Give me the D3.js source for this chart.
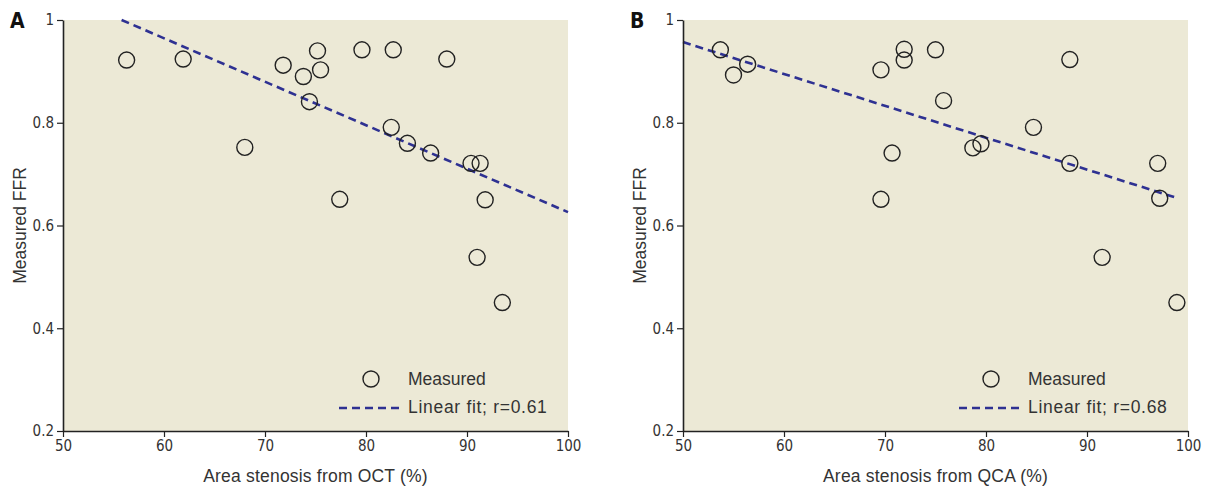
<!DOCTYPE html>
<html>
<head>
<meta charset="utf-8">
<script src="https://cdn.jsdelivr.net/npm/d3@7"></script>
<style>
  body { margin: 0; background: #fff; }
  .tick text { font-family: "Liberation Sans Narrow", "DejaVu Sans Condensed", sans-serif; font-size: 15px; fill: #333; }
  .title { font-family: "Liberation Sans", Arial, sans-serif; font-size: 17.5px; fill: #333; }
  .panel { font-family: "Liberation Sans Narrow", "DejaVu Sans Condensed", sans-serif; font-size: 21px; font-weight: bold; fill: #111; }
</style>
</head>
<body>
<script>
// panel A: area stenosis from OCT vs measured FFR
var octX = [56.3, 61.9, 68.0, 71.8, 73.8, 75.2, 75.5, 74.4, 77.4, 79.6, 82.7, 82.5, 84.1, 86.4, 88.0, 90.4, 91.3, 91.8, 91.0, 93.5]
var octY = [0.922, 0.924, 0.752, 0.912, 0.890, 0.940, 0.903, 0.841, 0.651, 0.942, 0.942, 0.791, 0.760, 0.741, 0.924, 0.721, 0.721, 0.650, 0.538, 0.450]
var octFitX = [55.8, 100]
var octFitY = [1.0, 0.626]

// panel B: area stenosis from QCA vs measured FFR
var qcaX = [53.7, 55.0, 56.4, 69.6, 71.9, 71.9, 70.7, 69.6, 75.0, 75.8, 78.7, 79.5, 84.7, 88.3, 88.3, 91.5, 97.0, 97.2, 98.9]
var qcaY = [0.942, 0.893, 0.914, 0.903, 0.943, 0.922, 0.741, 0.651, 0.942, 0.843, 0.751, 0.759, 0.791, 0.923, 0.721, 0.538, 0.721, 0.653, 0.450]
var qcaFitX = [50, 99.0]
var qcaFitY = [0.957, 0.653]

var xTicks = [50, 60, 70, 80, 90, 100]
var yTicks = [0.2, 0.4, 0.6, 0.8, 1]
var yTickLabels = ["0.2", "0.4", "0.6", "0.8", "1"]

var svg = d3.select("body").append("svg").attr("width", 1207).attr("height", 489)

var plotTop = 20, plotBottom = 431, plotW = 505

function drawPanel(left, letter, xs, ys, fitX, fitY, xTitle, r) {
    var x = d3.scaleLinear().domain([50, 100]).range([left, left + plotW])
    var y = d3.scaleLinear().domain([0.2, 1]).range([plotBottom, plotTop])
    var g = svg.append("g")

    g.append("rect").attr("x", left).attr("y", plotTop).attr("width", plotW).attr("height", plotBottom - plotTop)
        .attr("fill", "#ece9d6")

    // fit line
    g.append("line")
        .attr("x1", x(fitX[0])).attr("y1", y(fitY[0]))
        .attr("x2", x(fitX[1])).attr("y2", y(fitY[1]))
        .attr("stroke", "#2e3192").attr("stroke-width", 2.6).attr("stroke-dasharray", "8,5")

    g.selectAll("circle.pt").data(xs).enter().append("circle").classed("pt", true)
        .attr("cx", d => x(d)).attr("cy", (d, i) => y(ys[i])).attr("r", 8)
        .attr("fill", "none").attr("stroke", "#222").attr("stroke-width", 1.4)

    g.append("g").attr("transform", "translate(0," + plotBottom + ")")
        .call(d3.axisBottom(x).tickValues(xTicks).tickSize(6).tickSizeOuter(0).tickPadding(3))
    g.append("g").attr("transform", "translate(" + left + ",0)")
        .call(d3.axisLeft(y).tickValues(yTicks).tickSize(6).tickSizeOuter(0).tickPadding(3)
            .tickFormat((d, i) => yTickLabels[i]))
    g.selectAll(".domain").attr("stroke", "#222").attr("stroke-width", 1.6)
    g.selectAll(".tick line").attr("stroke", "#222").attr("stroke-width", 1.2)

    g.append("text").classed("title", true).style("letter-spacing", "0.2px")
        .attr("x", left + plotW / 2).attr("y", 482).attr("text-anchor", "middle").text(xTitle)
    g.append("text").classed("title", true)
        .attr("transform", "translate(" + (left - 37) + "," + ((plotTop + plotBottom) / 2) + ") rotate(-90)")
        .attr("text-anchor", "middle").text("Measured FFR")
    g.append("text").classed("panel", true).attr("x", left - 53).attr("y", 28).text(letter)

    // legend
    var lx = left + 308
    g.append("circle").attr("cx", lx).attr("cy", 379).attr("r", 8)
        .attr("fill", "none").attr("stroke", "#222").attr("stroke-width", 1.4)
    g.append("text").classed("title", true).attr("x", left + 345).attr("y", 385).text("Measured")
    g.append("line").attr("x1", left + 276).attr("x2", left + 339).attr("y1", 408).attr("y2", 408)
        .attr("stroke", "#2e3192").attr("stroke-width", 2.6).attr("stroke-dasharray", "8,5")
    g.append("text").classed("title", true).style("letter-spacing", "0.7px")
        .attr("x", left + 345).attr("y", 413).text("Linear fit; r=" + r)
}

drawPanel(63, "A", octX, octY, octFitX, octFitY, "Area stenosis from OCT (%)", "0.61")
drawPanel(683, "B", qcaX, qcaY, qcaFitX, qcaFitY, "Area stenosis from QCA (%)", "0.68")
</script>
</body>
</html>
